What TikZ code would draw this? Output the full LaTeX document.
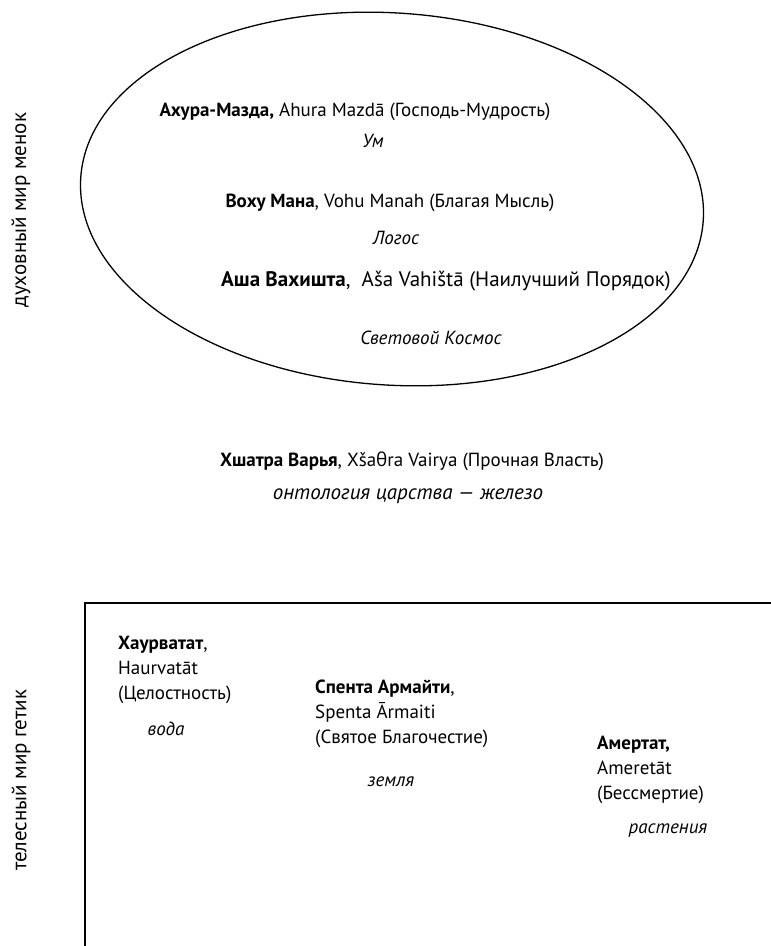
\documentclass[tikz,border=0pt]{standalone}
\usepackage{fontspec}
\setmainfont{PT Sans}
\newfontfamily\grkfont{Open Sans}
\usetikzlibrary{positioning}
\tikzset{
  txt/.style={inner sep=0pt, font=\fontsize{19}{22}\selectfont},
  gloss/.style={txt, font=\fontsize{19}{22}\selectfont\itshape},
  wide/.style={inner sep=0pt, font=\fontsize{21}{24}\selectfont},
  side/.style={inner sep=0pt, rotate=90, font=\fontsize{21}{24}\selectfont},
  % anchored at the baseline of the last line
  block/.style={txt, align=left, anchor=base west, font=\fontsize{19}{25}\selectfont},
  frame/.style={line width=1.6pt},
  heaven/.style={line width=1.3pt}
}
\begin{document}
\begin{tikzpicture}[x=1pt,y=-1pt]
\useasboundingbox (0,0) rectangle (771,946);

% spiritual world: the ellipse of the higher Amesha Spentas
\coordinate (ctr) at (392,199);
\draw[heaven, rotate around={-4:(ctr)}] (ctr) ellipse [x radius=312, y radius=186];

\node[txt] (ahura) at (355,112) {\textbf{Ахура-Мазда,} Ahura Mazdā (Господь-Мудрость)};
\node[gloss] (um) at (373,141) {Ум};
\node[txt] (vohu) at (390,203) {\textbf{Воху Мана}, Vohu Manah (Благая Мысль)};
\node[gloss] (logos) at (396,238) {Логос};
\node[wide] (asha) at (446,281) {\textbf{Аша Вахишта},\ \ Aša Vahištā (Наилучший Порядок)};
\node[gloss] (kosmos) at (431,338) {Световой Космос};

% intermediate level
\node[txt] (xshatra) at (412,461) {\textbf{Хшатра Варья}, Xša{\grkfont θ}ra Vairya (Прочная Власть)};
\node[wide, font=\fontsize{21}{24}\selectfont\itshape] (ontol) at (408,496) {онтология царства — железо};

% bodily world: open frame
\coordinate (frTR) at (771,603);
\coordinate (frTL) at (85,603);
\coordinate (frBL) at (85,946);
\draw[frame] (frTR) -- (frTL) -- (frBL);

\node[block] (haur) at (118,699) {\textbf{Хаурватат},\\Haurvatāt\\(Целостность)};
\node[gloss] (voda) at (166,729) {вода};
\node[block] (spenta) at (315,743) {\textbf{Спента Армайти},\\Spenta Ārmaiti\\(Святое Благочестие)};
\node[gloss] (zemlya) at (391,782) {земля};
\node[block] (amer) at (597,799) {\textbf{Амертат,}\\Ameretāt\\(Бессмертие)};
\node[gloss] (rast) at (668,831) {растения};

% side captions
\node[side] (menok) at (21,210) {духовный мир менок};
\node[side] (getik) at (21,780) {телесный мир гетик};
\end{tikzpicture}
\end{document}
